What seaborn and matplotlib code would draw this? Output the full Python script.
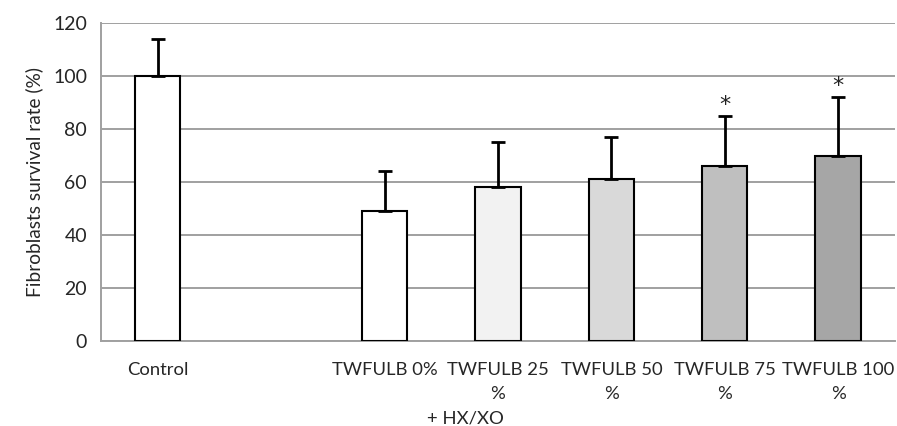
import numpy as np
import pandas as pd
import matplotlib
matplotlib.use("Agg")
import matplotlib.pyplot as plt
import seaborn as sns

# valores
grupos = ["Control", " ", "TWFULB 0%", "TWFULB 25\n%", "TWFULB 50\n%", "TWFULB 75\n%", "TWFULB 100\n%"]
sobrevivencia = [100, np.nan, 49, 58, 61, 66, 70]
erro = [14, np.nan, 15, 17, 16, 19, 22]
significativo = [False, False, False, False, False, True, True]
cores = ["#FFFFFF", "#FFFFFF", "#FFFFFF", "#F2F2F2", "#D9D9D9", "#BFBFBF", "#A6A6A6"]

df = pd.DataFrame({"grupo": grupos, "valor": sobrevivencia, "erro": erro})

sns.set_style("white")
plt.rcParams["font.family"] = ["Lato", "DejaVu Sans"]
fs = 13.3

fig = plt.figure(figsize=(8.97, 4.26), dpi=100)
ax = fig.add_axes([0.1126, 0.1995, 0.885, 0.7465])

sns.barplot(data=df, x="grupo", y="valor", hue="grupo", palette=cores, order=grupos,
            hue_order=grupos, legend=False, width=0.4, edgecolor="black",
            linewidth=1.5, errorbar=None, ax=ax, zorder=3)

x = np.arange(len(grupos))
err_low = np.zeros(len(grupos))
ax.errorbar(x, df["valor"], yerr=[err_low, df["erro"]], fmt="none", ecolor="black",
            elinewidth=2, capsize=5, capthick=2, zorder=4)

for i, sig in enumerate(significativo):
    if sig:
        ax.text(x[i], df["valor"][i] + df["erro"][i] + 0.3, "*", ha="center", va="bottom",
                fontsize=16, color="#222222", family="DejaVu Sans")

ax.set_ylim(0, 120)
ax.set_xlim(-0.5, len(grupos) - 0.5)
ax.set_yticks(range(0, 121, 20))
ax.yaxis.grid(True, color="#A0A0A0", linewidth=1.4, zorder=0)
ax.set_axisbelow(True)
for s in ["top", "right"]:
    ax.spines[s].set_visible(False)
for s in ["left", "bottom"]:
    ax.spines[s].set_color("#A0A0A0")
    ax.spines[s].set_linewidth(1.4)

ax.set_xticks(x)
ax.set_xticklabels(grupos, multialignment="center", linespacing=1.6)
ax.set_xticks(np.arange(-0.5, len(grupos), 1), minor=True)
ax.tick_params(axis="x", which="major", length=0, labelsize=fs, pad=15)
ax.tick_params(axis="x", which="minor", length=5, width=1.2, color="#A0A0A0", direction="out")
ax.tick_params(axis="y", length=5, width=1.2, color="#A0A0A0", direction="out", labelsize=fs + 0.7, pad=5)

ax.set_xlabel("")
ax.set_ylabel("Fibroblasts survival rate (%)", fontsize=fs + 0.5, labelpad=7)

fig.text(465 / 897, 1 - 418 / 426, "+ HX/XO", ha="center", va="center", fontsize=fs)

fig.savefig("out.png", dpi=100)
